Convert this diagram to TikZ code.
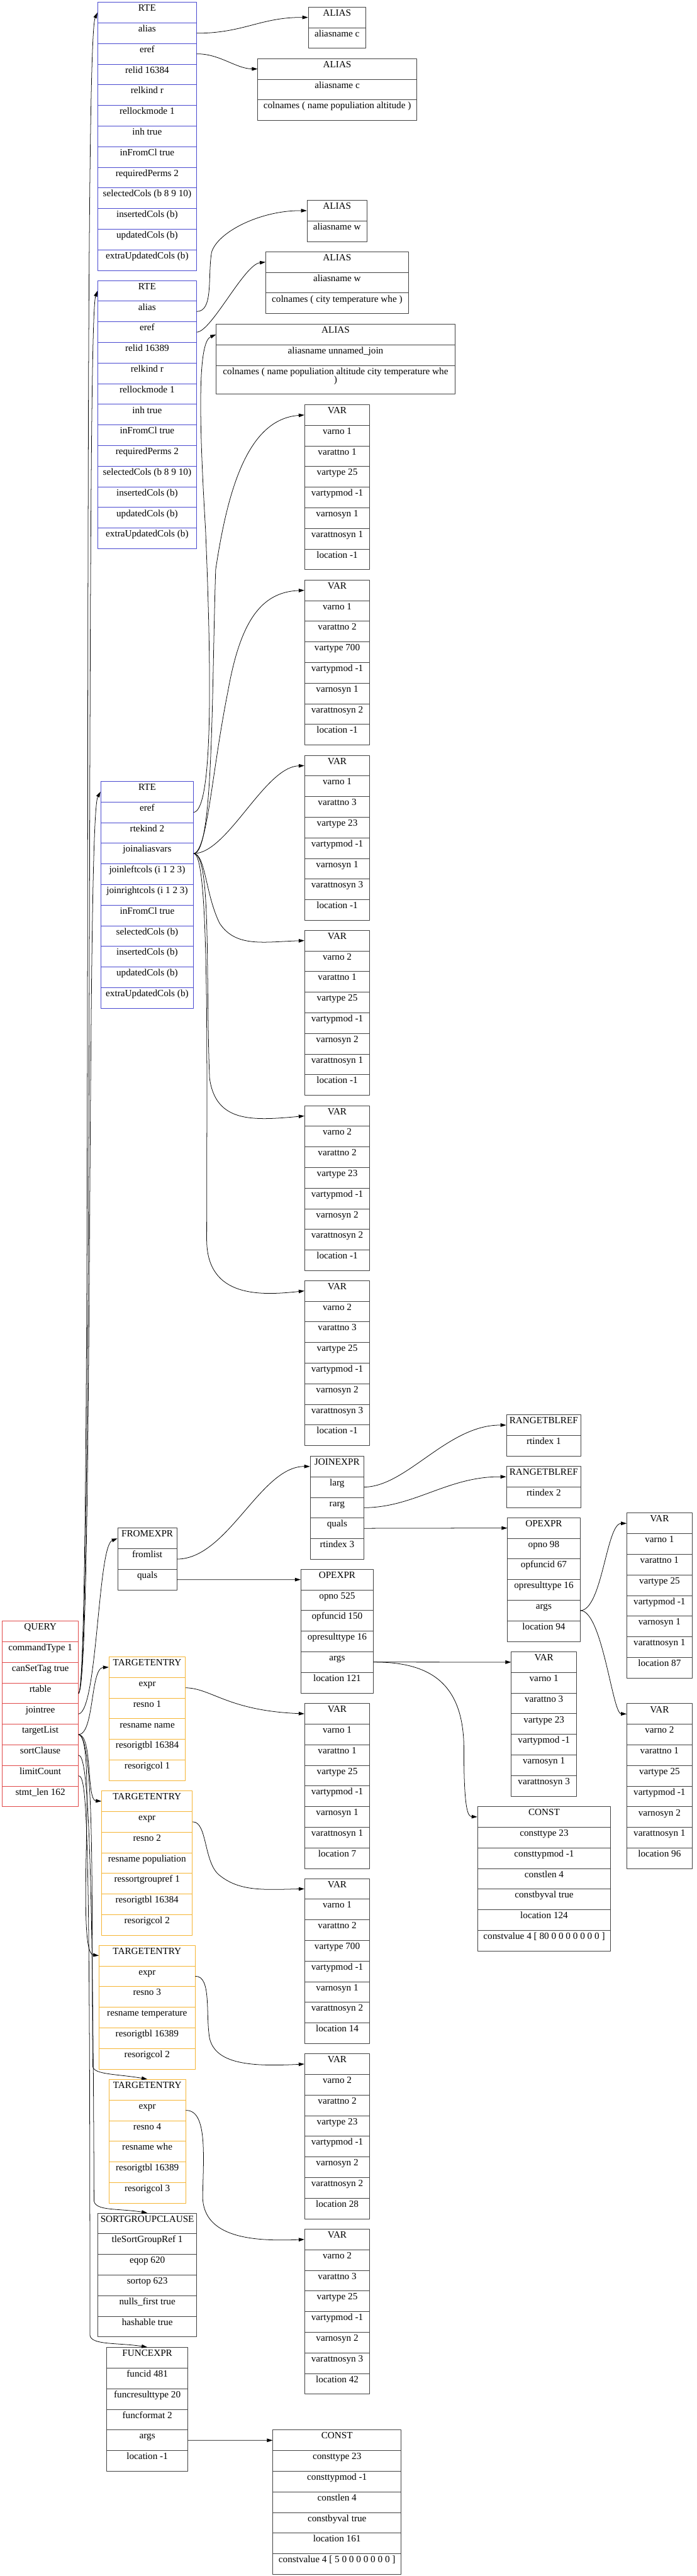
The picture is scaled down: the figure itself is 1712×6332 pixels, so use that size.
\documentclass[tikz,border=0pt]{standalone}
\usepackage{fontspec}
\setmainfont{Liberation Serif}
\usepackage{tikz}
\usetikzlibrary{arrows.meta}
\definecolor{rteblue}{RGB}{72,72,208}
\definecolor{qryred}{RGB}{224,72,72}
\definecolor{tgtorange}{RGB}{245,180,50}
\definecolor{boxgray}{RGB}{64,64,64}
\tikzset{cell/.style={rectangle,draw,inner sep=0pt,anchor=north west,line width=0.8pt,
  minimum height=30.17pt,text height=12.97pt,text depth=17.2pt,font=\fontsize{14}{16.8}\selectfont}}
\newcommand{\recbox}[6]{%
  \foreach \fld [count=\k from 0] in {#6}{%
    \node[cell,draw=#5,minimum width={#4*0.595pt}] (#1-\k) at (#2,{#3+\k*50.7}) {\fld};}}

\begin{document}
\begin{tikzpicture}[line cap=round,line join=round,>={Triangle[length=8.3pt,width=5.2pt]},x=0.595pt,y=-0.595pt]
\useasboundingbox (0,0) rectangle (1712,6332);
\recbox{rte1}{239.4}{5}{243}{rteblue}{RTE,alias,eref,relid 16384,relkind r,rellockmode 1,inh true,inFromCl true,requiredPerms 2,selectedCols (b 8 9 10),insertedCols (b),updatedCols (b),extraUpdatedCols (b)}
\recbox{ali1}{757}{16.8}{141}{boxgray}{ALIAS,aliasname c}
\recbox{ali2}{633}{143.5}{390}{boxgray}{ALIAS,aliasname c,colnames ( name populiation altitude )}
\recbox{ali3}{754}{491.8}{147}{boxgray}{ALIAS,aliasname w}
\recbox{ali4}{652.5}{618.2}{350.5}{boxgray}{ALIAS,aliasname w,colnames ( city temperature whe )}
\recbox{ali5}{530.7}{796.4}{586.6}{boxgray}{ALIAS,aliasname unnamed\_join}
\node[cell,draw=boxgray,minimum width={586.6*0.595pt},minimum height=41.9pt,text depth=28.93pt] (ali5-2) at (530.7,897.8) {\begin{tabular}[t]{@{}c@{}}colnames ( name populiation altitude city temperature whe\\[-4.5pt])\end{tabular}};
\recbox{rte2}{239.4}{689}{243}{rteblue}{RTE,alias,eref,relid 16389,relkind r,rellockmode 1,inh true,inFromCl true,requiredPerms 2,selectedCols (b 8 9 10),insertedCols (b),updatedCols (b),extraUpdatedCols (b)}
\recbox{var1}{748}{994}{160}{boxgray}{VAR,varno 1,varattno 1,vartype 25,vartypmod -1,varnosyn 1,varattnosyn 1,location -1}
\recbox{var2}{748}{1425}{160}{boxgray}{VAR,varno 1,varattno 2,vartype 700,vartypmod -1,varnosyn 1,varattnosyn 2,location -1}
\recbox{var3}{748}{1856}{160}{boxgray}{VAR,varno 1,varattno 3,vartype 23,vartypmod -1,varnosyn 1,varattnosyn 3,location -1}
\recbox{rte3}{247}{1920}{228}{rteblue}{RTE,eref,rtekind 2,joinaliasvars,joinleftcols (i 1 2 3),joinrightcols (i 1 2 3),inFromCl true,selectedCols (b),insertedCols (b),updatedCols (b),extraUpdatedCols (b)}
\recbox{var4}{748}{2286}{160}{boxgray}{VAR,varno 2,varattno 1,vartype 25,vartypmod -1,varnosyn 2,varattnosyn 1,location -1}
\recbox{var5}{748}{2717}{160}{boxgray}{VAR,varno 2,varattno 2,vartype 23,vartypmod -1,varnosyn 2,varattnosyn 2,location -1}
\recbox{var6}{748}{3147}{160}{boxgray}{VAR,varno 2,varattno 3,vartype 25,vartypmod -1,varnosyn 2,varattnosyn 3,location -1}
\recbox{rtr1}{1244}{3477}{183}{boxgray}{RANGETBLREF,rtindex 1}
\recbox{rtr2}{1244}{3604}{183}{boxgray}{RANGETBLREF,rtindex 2}
\recbox{join}{761.7}{3578.6}{132}{boxgray}{JOINEXPR,larg,rarg,quals,rtindex 3}
\recbox{from}{288.6}{3755.6}{145.3}{boxgray}{FROMEXPR,fromlist,quals}
\recbox{opx1}{1246.7}{3730}{178}{boxgray}{OPEXPR,opno 98,opfuncid 67,opresulttype 16,args,location 94}
\recbox{opx2}{738.7}{3856.7}{178.3}{boxgray}{OPEXPR,opno 525,opfuncid 150,opresulttype 16,args,location 121}
\recbox{var7}{1256}{4059.6}{160}{boxgray}{VAR,varno 1,varattno 3,vartype 23,vartypmod -1,varnosyn 1,varattnosyn 3}
\recbox{var8}{1540}{3718.4}{160}{boxgray}{VAR,varno 1,varattno 1,vartype 25,vartypmod -1,varnosyn 1,varattnosyn 1,location 87}
\recbox{var9}{1540}{4187}{160}{boxgray}{VAR,varno 2,varattno 1,vartype 25,vartypmod -1,varnosyn 2,varattnosyn 1,location 96}
\recbox{cst1}{1173}{4440}{327}{boxgray}{CONST,consttype 23,consttypmod -1,constlen 4,constbyval true,location 124,{constvalue 4 [ 80 0 0 0 0 0 0 0 ]}}
\recbox{qry}{4.9}{3984.2}{187}{qryred}{QUERY,commandType 1,canSetTag true,rtable,jointree,targetList,sortClause,limitCount,stmt\_len 162}
\recbox{tgt1}{267.2}{4072}{188}{tgtorange}{TARGETENTRY,expr,resno 1,resname name,resorigtbl 16384,resorigcol 1}
\recbox{tgt2}{249.3}{4401.5}{222.7}{tgtorange}{TARGETENTRY,expr,resno 2,resname populiation,ressortgroupref 1,resorigtbl 16384,resorigcol 2}
\recbox{tgt3}{242.8}{4781}{236}{tgtorange}{TARGETENTRY,expr,resno 3,resname temperature,resorigtbl 16389,resorigcol 2}
\recbox{tgt4}{267.3}{5110.7}{188}{tgtorange}{TARGETENTRY,expr,resno 4,resname whe,resorigtbl 16389,resorigcol 3}
\recbox{var10}{748}{4186.5}{160}{boxgray}{VAR,varno 1,varattno 1,vartype 25,vartypmod -1,varnosyn 1,varattnosyn 1,location 7}
\recbox{var11}{748}{4616.8}{160}{boxgray}{VAR,varno 1,varattno 2,vartype 700,vartypmod -1,varnosyn 1,varattnosyn 2,location 14}
\recbox{var12}{748}{5047.5}{160}{boxgray}{VAR,varno 2,varattno 2,vartype 23,vartypmod -1,varnosyn 2,varattnosyn 2,location 28}
\recbox{var13}{748}{5478.6}{160}{boxgray}{VAR,varno 2,varattno 3,vartype 25,vartypmod -1,varnosyn 2,varattnosyn 3,location 42}
\recbox{sgc}{240}{5439.3}{242.6}{boxgray}{SORTGROUPCLAUSE,tleSortGroupRef 1,eqop 620,sortop 623,nulls\_first true,hashable true}
\recbox{fnc}{261.7}{5769.4}{199.2}{boxgray}{FUNCEXPR,funcid 481,funcresulttype 20,funcformat 2,args,location -1}
\recbox{cst2}{670}{5972.4}{315}{boxgray}{CONST,consttype 23,consttypmod -1,constlen 4,constbyval true,location 161,{constvalue 4 [ 5 0 0 0 0 0 0 0 ]}}
\begin{scope}[line width=0.7pt]
\draw[->] (rte1-1.east) .. controls (600,81.4) and (640,42.2) .. (ali1-0.west);
\draw[->] (rte1-2.east) .. controls (540,132) and (580,168.9) .. (ali2-0.west);
\draw[->] (rte2-1.east) .. controls (525,765) and (510,680) .. (520,620) .. controls (535,570) and (640,517) .. (ali3-0.west);
\draw[->] (rte2-2.east) .. controls (520,815) and (600,650) .. (ali4-0.west);
\draw[->] (rte3-1.east) .. controls (520,1990) and (522,1700) .. (505,1300) .. controls (487,1000) and (488,840) .. (ali5-0.west);
\draw[->] (rte3-3.east) .. controls (525,2097) and (520,1700) .. (530,1400) .. controls (560,1200) and (610,1030) .. (var1-0.west);
\draw[->] (rte3-3.east) .. controls (510,2090) and (520,1900) .. (560,1700) .. controls (590,1530) and (640,1455) .. (var2-0.west);
\draw[->] (rte3-3.east) .. controls (560,2097) and (650,1885) .. (var3-0.west);
\draw[->] (rte3-3.east) .. controls (505,2100) and (505,2200) .. (540,2270) .. controls (580,2330) and (650,2315) .. (var4-0.west);
\draw[->] (rte3-3.east) .. controls (520,2100) and (505,2400) .. (515,2650) .. controls (530,2760) and (620,2755) .. (var5-0.west);
\draw[->] (rte3-3.east) .. controls (515,2100) and (508,2600) .. (508,3050) .. controls (510,3190) and (640,3185) .. (var6-0.west);
\draw[->] (qry-3.east) .. controls (232,4130) and (200,120) .. (rte1-0.west);
\draw[->] (qry-3.east) .. controls (232,4130) and (210,800) .. (rte2-0.west);
\draw[->] (qry-3.east) .. controls (230,4120) and (212,2010) .. (rte3-0.west);
\draw[->] (qry-4.east) .. controls (240,4205) and (240,3800) .. (from-0.west);
\draw[->] (qry-5.east) .. controls (232,4262) and (222,4100) .. (tgt1-0.west);
\draw[->] (qry-5.east) .. controls (228,4265) and (212,4425) .. (tgt2-0.west);
\draw[->] (qry-5.east) .. controls (240,4270) and (185,4800) .. (tgt3-0.west);
\draw[->] (qry-5.east) .. controls (235,4270) and (224,4700) .. (228,5080) .. controls (232,5100) and (290,5098) .. (tgt4-0.north);
\draw[->] (qry-6.east) .. controls (215,4315) and (228,4500) .. (231,5410) .. controls (235,5435) and (290,5428) .. (sgc-0.north);
\draw[->] (qry-7.east) .. controls (215,4365) and (221,4500) .. (221,5740) .. controls (224,5765) and (290,5758) .. (fnc-0.north);
\draw[->] (from-1.east) .. controls (560,3832) and (640,3604) .. (join-0.west);
\draw[->] (from-2.east) -- (opx2-0.west);
\draw[->] (join-1.east) .. controls (1000,3654) and (1100,3502) .. (rtr1-0.west);
\draw[->] (join-2.east) .. controls (1020,3705) and (1100,3629) .. (rtr2-0.west);
\draw[->] (join-3.east) -- (opx1-0.west);
\draw[->] (opx1-4.east) .. controls (1480,3958) and (1490,3745) .. (var8-0.west);
\draw[->] (opx1-4.east) .. controls (1480,3958) and (1505,4212) .. (var9-0.west);
\draw[->] (opx2-4.east) -- (var7-0.west);
\draw[->] (opx2-4.east) .. controls (1060,4085) and (1140,4140) .. (1140,4300) .. controls (1140,4450) and (1150,4465) .. (cst1-0.west);
\draw[->] (tgt1-1.east) .. controls (520,4150) and (560,4205) .. (var10-0.west);
\draw[->] (tgt2-1.east) .. controls (510,4477) and (500,4580) .. (540,4610) .. controls (590,4650) and (650,4645) .. (var11-0.west);
\draw[->] (tgt3-1.east) .. controls (520,4857) and (505,4950) .. (515,5010) .. controls (530,5075) and (620,5080) .. (var12-0.west);
\draw[->] (tgt4-1.east) .. controls (510,5186) and (500,5300) .. (498,5400) .. controls (500,5500) and (620,5510) .. (var13-0.west);
\draw[->] (fnc-4.east) -- (cst2-0.west);
\end{scope}
\end{tikzpicture}
\end{document}
